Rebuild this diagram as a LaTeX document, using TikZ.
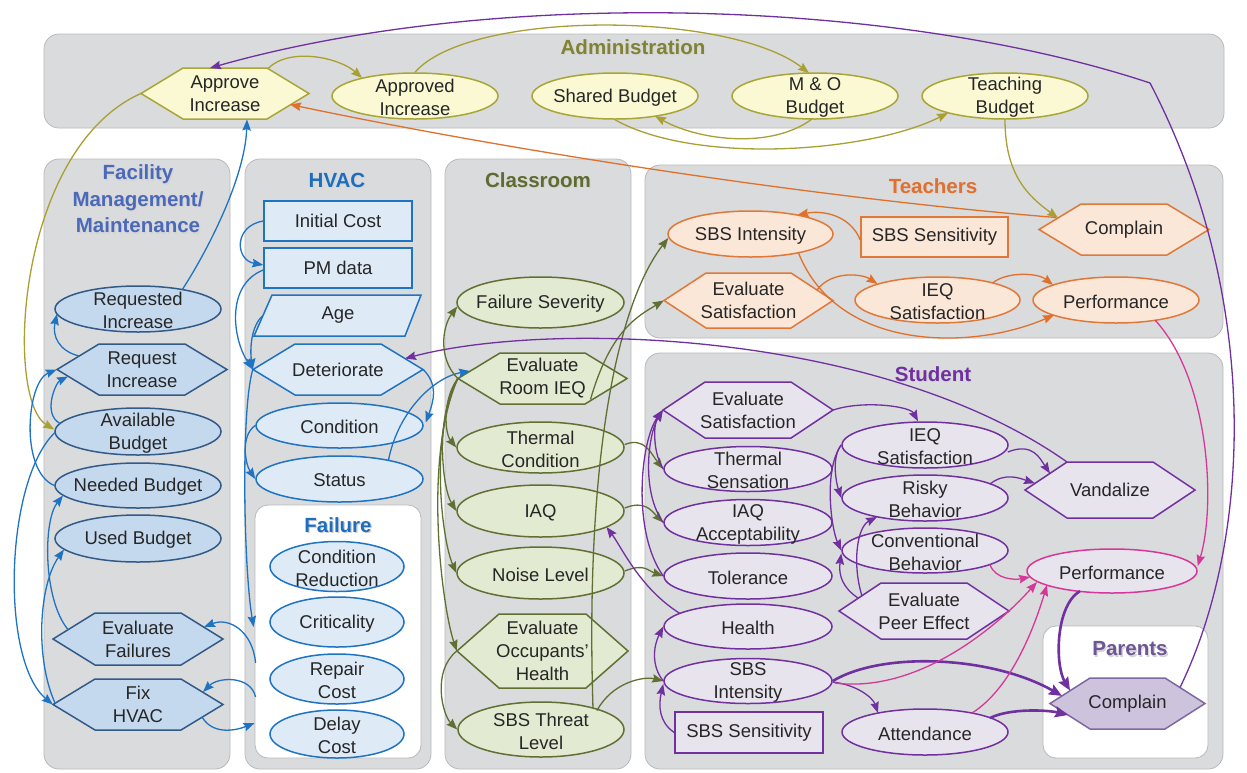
\documentclass[tikz,border=0pt]{standalone}
\usepackage{fontspec}
\setmainfont{Liberation Sans}
\usetikzlibrary{arrows.meta,calc,shapes.geometric}
\definecolor{panelfill}{RGB}{218,219,221}
\definecolor{paneldraw}{RGB}{185,185,187}
\definecolor{txt}{RGB}{38,38,38}
\definecolor{adfill}{RGB}{250,249,212}
\definecolor{addraw}{RGB}{170,165,55}
\definecolor{adtitle}{RGB}{128,130,52}
\definecolor{fmfill}{RGB}{197,217,238}
\definecolor{fmdraw}{RGB}{50,90,135}
\definecolor{fmtitle}{RGB}{75,105,185}
\definecolor{hvfill}{RGB}{222,235,247}
\definecolor{hvdraw}{RGB}{30,115,195}
\definecolor{hvtitle}{RGB}{30,110,190}
\definecolor{clfill}{RGB}{227,234,210}
\definecolor{cldraw}{RGB}{95,112,50}
\definecolor{cltitle}{RGB}{95,107,48}
\definecolor{tefill}{RGB}{251,231,216}
\definecolor{tedraw}{RGB}{225,120,55}
\definecolor{tetitle}{RGB}{225,112,48}
\definecolor{stfill}{RGB}{232,228,238}
\definecolor{stdraw}{RGB}{112,48,160}
\definecolor{mag}{RGB}{214,56,154}
\definecolor{pafill}{RGB}{205,195,220}
\definecolor{padraw}{RGB}{125,105,160}
\definecolor{patitle}{RGB}{110,86,150}
\tikzset{
  panel/.style={fill=panelfill, draw=paneldraw, line width=0.8pt, rounded corners=15pt},
  wbox/.style={fill=white, draw=paneldraw, line width=0.8pt, rounded corners=13pt, inner sep=0pt},
  lbl/.style={text=txt, font=\fontsize{18.5}{23}\selectfont, align=center, inner sep=0pt},
  ttl/.style={font=\fontsize{20.5}{26.5}\selectfont\bfseries, align=center, inner sep=0pt},
  ad/.style={fill=adfill, draw=addraw, line width=1.5pt},
  fm/.style={fill=fmfill, draw=fmdraw, line width=1.5pt},
  hv/.style={fill=hvfill, draw=hvdraw, line width=1.5pt},
  cl/.style={fill=clfill, draw=cldraw, line width=1.5pt},
  te/.style={fill=tefill, draw=tedraw, line width=1.5pt},
  st/.style={fill=stfill, draw=stdraw, line width=1.5pt},
  sp/.style={fill=stfill, draw=mag, line width=1.5pt},
  pa/.style={fill=pafill, draw=padraw, line width=1.5pt},
  edge/.style={line width=1.3pt, -{Stealth[length=11pt,width=8.5pt,inset=1.5pt]}},
  ead/.style={edge, draw={rgb,255:red,168;green,160;blue,50}},
  ehv/.style={edge, draw=hvdraw},
  ecl/.style={edge, draw=cldraw},
  ete/.style={edge, draw={rgb,255:red,224;green,112;blue,42}},
  est/.style={edge, draw=stdraw},
  estk/.style={line width=2.6pt, draw=stdraw, -{Stealth[length=13pt,width=11pt,inset=2pt]}},
  emg/.style={edge, draw=mag},
}
\newcommand\Ell[7]{\node[#1,ellipse,minimum width=#5,minimum height=#6,inner sep=0pt] (#2) at (#3,#4) {};
  \node[lbl] (#2-t) at ($(#2)+(0,1.5)$) {#7};}
\newcommand\Hex[8]{\path[#1] ({#3-#5},{#4}) -- ({#3-#5+#7},{#4-#6}) -- ({#3+#5-#7},{#4-#6}) -- ({#3+#5},{#4}) -- ({#3+#5-#7},{#4+#6}) -- ({#3-#5+#7},{#4+#6}) -- cycle;
  \node[lbl, minimum width={2*#5}, minimum height={2*#6}] (#2) at (#3,#4) {#8};}
\newcommand\Ttl[5]{\node[ttl, text=black!17] (#1-s) at ({#3+1.3},{#4+1.3}) {#5};
  \node[ttl, text=#2] (#1) at (#3,#4) {#5};}
\begin{document}
\begin{tikzpicture}[x=1pt, y=-1pt]
\useasboundingbox (0,0) rectangle (1247,772);
% panels
\path[panel] (44,34) rectangle (1224,128);
\path[panel] (44,159) rectangle (230,769);
\path[panel] (245,159) rectangle (431,769);
\path[panel] (445,159) rectangle (631,769);
\path[panel] (645,165) rectangle (1223,338);
\path[panel] (645,353) rectangle (1223,769);
\node[wbox, minimum width=166, minimum height=253] (failbox) at (338,631.5) {};
\node[wbox, minimum width=165, minimum height=132] (pbox) at (1125.5,692) {};
% titles
\Ttl{tadmin}{adtitle}{633}{47}{Administration}
\Ttl{tfm}{fmtitle}{138}{199}{Facility\\Management/\\Maintenance}
\Ttl{thvac}{hvtitle}{337}{180}{HVAC}
\Ttl{tclass}{cltitle}{538}{180}{Classroom}
\Ttl{tteach}{tetitle}{933}{186}{Teachers}
\Ttl{tstud}{stdraw}{933}{374}{Student}
\Ttl{tpar}{patitle}{1130}{649}{Parents}
\Ttl{tfail}{hvtitle}{338}{525}{Failure}
% Administration
\Hex{ad}{appinc}{225}{93.5}{84}{25.5}{42}{Approve\\Increase}
\Ell{ad}{apdinc}{415}{96}{166}{46}{Approved\\Increase}
\Ell{ad}{shared}{615}{96}{166}{46}{Shared Budget}
\Ell{ad}{mo}{815}{96}{166}{46}{M \& O\\Budget}
\Ell{ad}{teach}{1005}{96}{166}{46}{Teaching\\Budget}
% Facility
\Ell{fm}{reqd}{138}{309}{166}{46}{Requested\\Increase}
\Hex{fm}{req}{142}{369.5}{85}{25.5}{42}{Request\\Increase}
\Ell{fm}{avail}{138}{431.5}{166}{47}{Available\\Budget}
\Ell{fm}{need}{138}{485.5}{166}{45}{Needed Budget}
\Ell{fm}{used}{138}{538.5}{166}{47}{Used Budget}
\Hex{fm}{evalf}{138}{639}{85}{26}{42}{Evaluate\\Failures}
\Hex{fm}{fix}{138}{704.5}{85}{25.5}{42}{Fix\\HVAC}
% HVAC
\node[hv, lbl, rectangle, minimum width=148, minimum height=40] (init) at (338,221) {Initial Cost};
\node[hv, lbl, rectangle, minimum width=148, minimum height=40] (pm) at (338,268) {PM data};
\path[hv] (272,295) -- (421,295) -- (405,336) -- (254,336) -- cycle;
\node[lbl, minimum width=150, minimum height=41] (age) at (338,315.5) {Age};
\Hex{hv}{det}{338}{369.5}{85}{25.5}{42}{Deteriorate}
\Ell{hv}{cond}{339.5}{425.5}{167}{45}{Condition}
\Ell{hv}{status}{339.5}{479}{167}{46}{Status}
\Ell{hv}{cred}{337}{566.5}{134}{50}{Condition\\Reduction}
\Ell{hv}{crit}{337}{622}{134}{50}{Criticality}
\Ell{hv}{repair}{337}{679}{134}{50}{Repair\\Cost}
\Ell{hv}{delay}{337}{734}{134}{48}{Delay\\Cost}
% Classroom
\Ell{cl}{fsev}{540.5}{302.5}{167}{51}{Failure Severity}
\Hex{cl}{evroom}{542.5}{378.5}{84.5}{25.5}{42}{Evaluate\\Room IEQ}
\Ell{cl}{thermc}{540.5}{447.5}{167}{51}{Thermal\\Condition}
\Ell{cl}{iaq}{540.5}{511}{167}{52}{IAQ}
\Ell{cl}{noise}{540.5}{573}{167}{52}{Noise Level}
\Hex{cl}{evocc}{542.5}{651}{85.5}{37}{42}{Evaluate\\Occupants’\\Health}
\Ell{cl}{sbst}{541}{729.5}{166}{55}{SBS Threat\\Level}
% Teachers
\Ell{te}{tsbsi}{750.5}{234}{165}{46}{SBS Intensity}
\node[te, lbl, rectangle, minimum width=147, minimum height=40] (tsbss) at (934.5,237) {SBS Sensitivity};
\Hex{te}{tcompl}{1124}{229.5}{85}{25.5}{42}{Complain}
\Hex{te}{tevsat}{748.5}{300.5}{84.5}{27.5}{42}{Evaluate\\Satisfaction}
\Ell{te}{tieq}{937.5}{300}{165}{46}{IEQ\\Satisfaction}
\Ell{te}{tperf}{1116}{300}{166}{46}{Performance}
% Student
\Hex{st}{sevsat}{748}{410}{85}{28}{42}{Evaluate\\Satisfaction}
\Ell{st}{sths}{748}{469}{168}{45}{Thermal\\Sensation}
\Ell{st}{siaqa}{748}{522.5}{168}{46}{IAQ\\Acceptability}
\Ell{st}{stol}{748}{576}{168}{46}{Tolerance}
\Ell{st}{shealth}{748}{626.5}{168}{45}{Health}
\Ell{st}{ssbsi}{748}{681}{168}{45}{SBS\\Intensity}
\node[st, lbl, rectangle, minimum width=148, minimum height=41] (ssbss) at (749,732.5) {SBS Sensitivity};
\Ell{st}{sieq}{925}{445}{166}{46}{IEQ\\Satisfaction}
\Ell{st}{srisky}{925}{498}{166}{46}{Risky\\Behavior}
\Ell{st}{sconv}{925}{550.5}{166}{45}{Conventional\\Behavior}
\Hex{st}{speer}{924}{611}{85}{28}{42}{Evaluate\\Peer Effect}
\Hex{st}{svand}{1110}{490}{85}{28}{42}{Vandalize}
\Ell{sp}{sperf}{1112}{571}{170}{44}{Performance}
\Ell{st}{satt}{925}{732}{166}{46}{Attendance}
\Hex{pa}{pcompl}{1127.5}{703.5}{77.5}{25.5}{40}{Complain}
\coordinate (kink) at (1150,83);
% ---- Administration edges
\draw[ead] ($(appinc)+(43,-25)$) .. controls +(22,-22) and +(-22,-20) .. ($(apdinc)+(-53,-18)$);
\draw[ead] (apdinc.north) .. controls +(55,-63) and +(-80,-62) .. ($(mo)+(-6,-23)$);
\draw[ead] ($(mo)+(-3,23)$) .. controls +(-40,30) and +(45,25) .. ($(shared)+(40,20)$);
\draw[ead] (shared.south) .. controls +(80,45) and +(-80,40) .. ($(teach)+(-57,17)$);
\draw[ead] (teach.south) .. controls +(0,55) and +(-30,-22) .. ($(tcompl)+(-66,-11.5)$);
\draw[ead] (appinc.west) .. controls +(-125,56) and +(-50,-30) .. ($(avail.west)+(0,-2)$);
% ---- Facility / HVAC edges
\draw[ehv] ($(reqd)+(44,-19)$) .. controls +(23,-35) and +(-2,60) .. ($(appinc)+(22,26)$);
\draw[ehv] ($(req)+(-63,-13.5)$) .. controls +(-20,-5) and +(-5,22) .. ($(reqd)+(-81,5)$);
\draw[ehv] ($(avail)+(-78,-8)$) .. controls +(-18,-10) and +(-12,6) .. ($(req)+(-74,7)$);
\draw[ehv] (need.west) .. controls +(-35,-15) and +(-30,12) .. (req.west);
\draw[ehv] ($(evalf)+(-70,-9.5)$) .. controls +(-25,-30) and +(-20,25) .. ($(need)+(-75,10)$);
\draw[ehv] ($(fix.west)+(2,-2)$) .. controls +(-20,-45) and +(-25,35) .. ($(used)+(-74,11)$);
\draw[ehv] ($(avail)+(-83,1)$) .. controls +(-50,47.5) and +(-53,-44.5) .. (fix.west);
\draw[ehv] ($(fix)+(64,12.5)$) .. controls +(12,20) and +(-15,6) .. ($(failbox.west)+(0,91.5)$);
\draw[ehv] ($(failbox.west)+(1,65.5)$) .. controls +(-5,-22) and +(15,-15) .. ($(fix)+(65,-12.5)$);
\draw[ehv] ($(failbox.west)+(1,31.5)$) .. controls +(-3,-32) and +(25,-10) .. ($(evalf)+(66,-12)$);
\draw[ehv] (det.west) .. controls +(-12,40) and +(-10,-60) .. ($(failbox.west)+(-1,-4.5)$);
\draw[ehv] ($(age)+(-75,0)$) .. controls +(-12,10) and +(-3,-20) .. (det.west);
\draw[ehv] (init.west) .. controls +(-30,5) and +(-28,-5) .. ($(pm.west)+(0,-3)$);
\draw[ehv] ($(pm.west)+(0,2)$) .. controls +(-38,15) and +(-20,-30) .. (det.west);
\draw[ehv] (det.east) .. controls +(15,15) and +(8,-22) .. ($(cond.east)+(2,-3)$);
\draw[ehv] (cond.west) .. controls +(-15,10) and +(-10,-15) .. (status.west);
\draw[ehv] ($(status)+(49,-19)$) .. controls +(10,-50) and +(-35,6) .. ($(evroom)+(-72.5,-7.5)$);
% ---- Classroom edges
\draw[ecl] (evroom.west) .. controls +(-20,-20) and +(-15,20) .. ($(fsev.west)+(1,4)$);
\draw[ecl] (evroom.west) .. controls +(-15,20) and +(-12,-15) .. (thermc.west);
\draw[ecl] (evroom.west) .. controls +(-22,35) and +(-15,-25) .. (iaq.west);
\draw[ecl] (evroom.west) .. controls +(-28,55) and +(-15,-35) .. (noise.west);
\draw[ecl] (evroom.west) .. controls +(-35,80) and +(-15,-45) .. (evocc.west);
\draw[ecl] (evocc.west) .. controls +(-25,20) and +(-15,-15) .. (sbst.west);
\draw[ecl] ($(sbst)+(52,-21)$) .. controls +(-8,-250) and +(-51,66) .. ($(tsbsi.west)+(1,4)$);
\draw[ecl] ($(evroom)+(48,21)$) .. controls +(20,-70) and +(-25,15) .. (tevsat.west);
\draw[ecl] ($(thermc.east)+(0,-3)$) .. controls +(20,-8) and +(-12,-15) .. (sths.west);
\draw[ecl] ($(iaq.east)+(0,-3)$) .. controls +(20,-8) and +(-12,-12) .. (siaqa.west);
\draw[ecl] ($(noise.east)+(0,-2)$) .. controls +(20,-8) and +(-15,-5) .. (stol.west);
\draw[ecl] ($(sbst)+(56,-19)$) .. controls +(15,-28) and +(-20,-5) .. (ssbsi.west);
% ---- Teachers edges
\draw[ete] ($(tsbss.west)+(0,3)$) .. controls +(-10,-25) and +(25,-5) .. ($(tsbsi)+(47,-19)$);
\draw[ete] ($(tsbsi)+(48,19)$) .. controls +(40,100) and +(-80,35) .. ($(tperf)+(-62,15)$);
\draw[ete] ($(tevsat)+(68.5,-10.5)$) .. controls +(15,-20) and +(-15,-10) .. ($(tieq)+(-60,-16)$);
\draw[ete] ($(tieq)+(55,-17)$) .. controls +(15,-12) and +(-15,-12) .. ($(tperf)+(-63,-15)$);
\draw[ete] ($(tcompl)+(-68,-12)$) .. controls +(-256,-21) and +(210,44) .. ($(appinc)+(65,11)$);
% ---- Student edges
\draw[est] (sevsat.east) .. controls +(30,-10) and +(-8,-15) .. ($(sieq.north)+(-7,0)$);
\draw[est] (sths.west) .. controls +(-10,-15) and +(-10,15) .. (sevsat.west);
\draw[est] (siaqa.west) .. controls +(-22,-30) and +(-15,25) .. (sevsat.west);
\draw[est] (stol.west) .. controls +(-32,-45) and +(-22,30) .. (sevsat.west);
\draw[est] ($(shealth)+(-68,-13)$) .. controls +(-40,-25) and +(15,20) .. ($(iaq)+(66,16)$);
\draw[est] (ssbsi.west) .. controls +(-12,-15) and +(-10,20) .. (shealth.west);
\draw[est] (ssbss.west) .. controls +(-15,-10) and +(-5,22) .. ($(ssbsi.west)+(0,3)$);
\draw[est] (sieq.west) .. controls +(-10,12) and +(-5,-15) .. (srisky.west);
\draw[est] (sieq.west) .. controls +(-18,25) and +(-10,-22) .. (sconv.west);
\draw[est] ($(speer)+(-62,-15)$) .. controls +(-10,-32) and +(-20,10) .. ($(srisky)+(-48,19)$);
\draw[est] ($(speer)+(-66,-13)$) .. controls +(-15,-10) and +(-3,22) .. ($(sconv.west)+(0,3)$);
\draw[est] ($(sieq.east)+(-1,7)$) .. controls +(25,-10) and +(-10,-15) .. ($(svand)+(-60,-16.5)$);
\draw[est] ($(srisky)+(65,-14)$) .. controls +(15,-12) and +(-15,-5) .. ($(svand)+(-75,-6.7)$);
\draw[est] ($(svand)+(-43,-28)$) .. controls +(-187,-132) and +(145,-38) .. ($(det)+(67,-11)$);
\draw[estk] ($(sperf)+(-32,20)$) .. controls +(-25,15) and +(-15,-25) .. ($(pcompl)+(-57.5,-13)$);
\draw[estk] (ssbsi.east) .. controls +(50,-30) and +(-70,-40) .. ($(pcompl)+(-65.5,-7.6)$);
\draw[est] ($(ssbsi.east)+(0,1)$) .. controls +(25,3) and +(-5,-15) .. ($(satt)+(-47,-19)$);
\draw[estk] ($(satt)+(65,-14)$) .. controls +(20,-10) and +(-20,-5) .. ($(pcompl)+(-59.5,11.5)$);
\draw[est] ($(pcompl)+(52.5,-16)$) .. controls +(72,-148) and +(112,215) .. (kink) .. controls +(-250,-83) and +(290,-82) .. ($(appinc)+(-15,-25.5)$);
% ---- Magenta edges
\draw[emg] ($(tperf)+(39,20)$) .. controls +(55,60) and +(18,-60) .. ($(sperf.east)+(0,-5)$);
\draw[emg] ($(sconv)+(65,14)$) .. controls +(5,15) and +(-15,3) .. ($(sperf)+(-82,6)$);
\draw[emg] ($(ssbsi.east)+(2,2)$) .. controls +(80,10) and +(-45,50) .. ($(sperf)+(-75,11)$);
\draw[emg] ($(satt)+(47,-19)$) .. controls +(40,-25) and +(-12,40) .. ($(sperf)+(-65,14)$);
\end{tikzpicture}
\end{document}
